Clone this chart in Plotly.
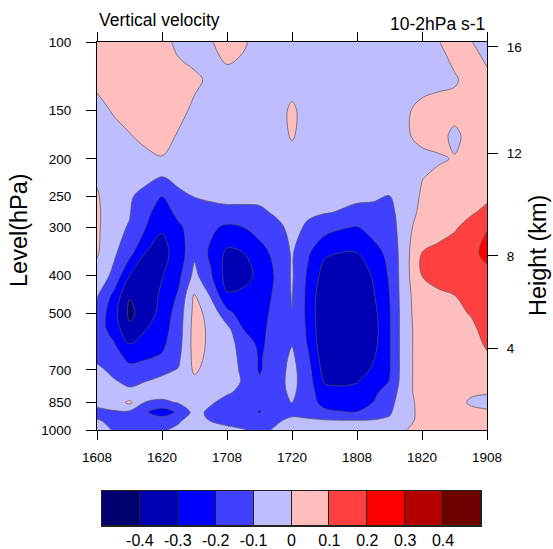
import numpy as np
import plotly.graph_objects as go

# ---- axes / labels ----
hours = [0, 3, 6, 9, 12, 15, 18, 21, 24, 27, 30, 33, 36, 39, 42, 45, 48, 51, 54, 57, 60, 63, 66, 69, 72]
xtick_hours = [0, 12, 24, 36, 48, 60, 72]
xtick_labels = ['1608', '1620', '1708', '1720', '1808', '1820', '1908']
levels_hpa = [100, 125, 150, 175, 200, 225, 250, 275, 300, 350, 400, 450, 500,
              550, 600, 650, 700, 750, 800, 850, 900, 925, 950, 1000]
ytick_hpa = [100, 150, 200, 250, 300, 400, 500, 700, 850, 1000]
height_km = [4, 8, 12, 16]
contour_levels = [-0.4, -0.3, -0.2, -0.1, 0.0, 0.1, 0.2, 0.3, 0.4]
cbar_labels = ['-0.4', '-0.3', '-0.2', '-0.1', '0', '0.1', '0.2', '0.3', '0.4']
colors = ['#00006E', '#0000B4', '#0000FF', '#4040FF', '#BEBEFF',
          '#FFBEBE', '#FF4040', '#FF0000', '#B40000', '#6E0000']

# ---- vertical velocity (10^-2 hPa/s), one profile per time, top (100 hPa) to bottom (1000 hPa) ----
w_t00 = [0.05, 0.03, -0.04, -0.05, -0.03, -0.01, 0.01, 0.02, 0.02, 0.01, -0.04, -0.09, -0.13, -0.15, -0.14, -0.12, -0.08, -0.06, -0.06, -0.08, -0.12, -0.11, -0.09, -0.06]
w_t03 = [0.06, 0.05, 0.01, -0.04, -0.05, -0.05, -0.06, -0.07, -0.08, -0.08, -0.12, -0.22, -0.26, -0.24, -0.19, -0.15, -0.12, -0.09, -0.06, -0.06, -0.11, -0.12, -0.12, -0.105]
w_t06 = [0.07, 0.06, 0.03, -0.005, -0.04, -0.05, -0.09, -0.095, -0.105, -0.17, -0.30, -0.395, -0.42, -0.38, -0.30, -0.23, -0.17, -0.12, -0.08, 0.02, -0.12, -0.14, -0.13, -0.12]
w_t09 = [0.07, 0.06, 0.04, 0.02, -0.02, -0.08, -0.13, -0.17, -0.2, -0.302, -0.35, -0.37, -0.36, -0.302, -0.26, -0.21, -0.16, -0.1, -0.07, -0.105, -0.19, -0.17, -0.14, -0.12]
w_t12 = [0.03, 0.05, 0.04, 0.02, -0.003, -0.11, -0.2, -0.26, -0.29, -0.33, -0.305, -0.28, -0.26, -0.24, -0.22, -0.19, -0.12, -0.08, -0.06, -0.12, -0.26, -0.195, -0.15, -0.11]
w_t15 = [-0.02, 0.03, 0.015, -0.005, -0.05, -0.08, -0.12, -0.17, -0.22, -0.26, -0.23, -0.19, -0.16, -0.15, -0.14, -0.12, -0.095, -0.06, -0.05, -0.095, -0.18, -0.14, -0.11, -0.08]
w_t18 = [-0.03, 0.01, -0.01, -0.04, -0.05, -0.07, -0.098, -0.13, -0.15, -0.12, -0.07, 0.01, 0.03, 0.04, 0.04, 0.03, 0.015, -0.02, -0.04, -0.06, -0.07, -0.06, -0.05, -0.05]
w_t21 = [-0.005, -0.01, -0.04, -0.05, -0.06, -0.07, -0.09, -0.12, -0.18, -0.22, -0.19, -0.11, -0.03, -0.02, -0.02, -0.025, -0.04, -0.05, -0.06, -0.09, -0.12, -0.12, -0.1, -0.06]
w_t24 = [0.03, -0.02, -0.04, -0.05, -0.06, -0.07, -0.08, -0.12, -0.22, -0.32, -0.34, -0.29, -0.17, -0.07, -0.05, -0.05, -0.05, -0.05, -0.09, -0.13, -0.15, -0.14, -0.12, -0.08]
w_t27 = [0.015, -0.04, -0.05, -0.05, -0.06, -0.07, -0.08, -0.12, -0.2, -0.302, -0.33, -0.28, -0.25, -0.2, -0.15, -0.13, -0.12, -0.11, -0.12, -0.14, -0.16, -0.15, -0.13, -0.095]
w_t30 = [-0.04, -0.05, -0.05, -0.05, -0.06, -0.07, -0.08, -0.115, -0.17, -0.23, -0.28, -0.26, -0.24, -0.23, -0.22, -0.21, -0.21, -0.185, -0.17, -0.18, -0.205, -0.17, -0.14, -0.12]
w_t33 = [-0.04, -0.05, -0.05, -0.05, -0.06, -0.07, -0.07, -0.09, -0.12, -0.18, -0.19, -0.18, -0.17, -0.16, -0.16, -0.16, -0.15, -0.14, -0.14, -0.14, -0.14, -0.13, -0.11, -0.09]
w_t36 = [-0.04, -0.05, 0.02, 0.01, -0.04, -0.06, -0.07, -0.08, -0.08, -0.09, -0.09, -0.095, -0.102, -0.11, -0.105, -0.08, -0.07, -0.07, -0.08, -0.098, -0.12, -0.1, -0.08, -0.07]
w_t39 = [-0.04, -0.05, -0.05, -0.05, -0.06, -0.07, -0.08, -0.09, -0.11, -0.19, -0.22, -0.23, -0.23, -0.22, -0.21, -0.19, -0.17, -0.16, -0.16, -0.16, -0.14, -0.105, -0.09, -0.07]
w_t42 = [-0.04, -0.05, -0.05, -0.05, -0.06, -0.07, -0.08, -0.095, -0.16, -0.285, -0.34, -0.38, -0.39, -0.39, -0.38, -0.36, -0.34, -0.31, -0.26, -0.23, -0.18, -0.12, -0.09, -0.07]
w_t45 = [-0.04, -0.05, -0.05, -0.05, -0.06, -0.07, -0.08, -0.105, -0.19, -0.302, -0.36, -0.38, -0.39, -0.39, -0.39, -0.38, -0.36, -0.32, -0.27, -0.24, -0.195, -0.13, -0.09, -0.07]
w_t48 = [-0.04, -0.05, -0.05, -0.05, -0.06, -0.07, -0.085, -0.12, -0.205, -0.302, -0.36, -0.38, -0.39, -0.39, -0.39, -0.38, -0.36, -0.305, -0.27, -0.24, -0.198, -0.13, -0.09, -0.07]
w_t51 = [-0.04, -0.05, -0.05, -0.05, -0.06, -0.07, -0.09, -0.12, -0.17, -0.23, -0.29, -0.31, -0.33, -0.34, -0.33, -0.31, -0.28, -0.25, -0.22, -0.199, -0.17, -0.12, -0.09, -0.07]
w_t54 = [-0.04, -0.05, -0.05, -0.05, -0.06, -0.07, -0.101, -0.13, -0.15, -0.18, -0.19, -0.201, -0.21, -0.21, -0.21, -0.21, -0.21, -0.198, -0.16, -0.13, -0.11, -0.098, -0.08, -0.07]
w_t57 = [-0.04, -0.04, -0.01, -0.01, -0.04, -0.05, -0.05, -0.04, -0.035, -0.03, -0.03, -0.03, -0.03, -0.03, -0.03, -0.03, -0.03, -0.03, -0.03, -0.035, -0.04, -0.04, -0.03, -0.002]
w_t60 = [-0.03, -0.03, 0.02, 0.02, -0.02, -0.002, 0.01, 0.02, 0.05, 0.101, 0.101, 0.06, 0.05, 0.04, 0.04, 0.04, 0.04, 0.04, 0.04, 0.03, 0.03, 0.03, 0.03, 0.03]
w_t63 = [-0.005, -0.02, 0.03, 0.03, -0.01, 0.02, 0.04, 0.05, 0.07, 0.12, 0.14, 0.08, 0.06, 0.05, 0.05, 0.05, 0.05, 0.05, 0.05, 0.04, 0.04, 0.04, 0.04, 0.04]
w_t66 = [0.04, -0.01, 0.03, -0.02, 0.005, 0.04, 0.06, 0.08, 0.09, 0.14, 0.16, 0.099, 0.08, 0.06, 0.06, 0.05, 0.05, 0.05, 0.04, 0.03, 0.03, 0.03, 0.03, 0.03]
w_t69 = [0.005, 0.03, 0.04, 0.03, 0.03, 0.05, 0.07, 0.09, 0.13, 0.17, 0.18, 0.16, 0.105, 0.08, 0.07, 0.06, 0.05, 0.03, 0.01, -0.01, 0.02, 0.03, 0.03, 0.03]
w_t72 = [-0.04, 0.02, 0.04, 0.04, 0.04, 0.06, 0.085, 0.12, 0.195, 0.23, 0.17, 0.16, 0.15, 0.13, 0.11, 0.09, 0.06, 0.03, 0.005, -0.02, 0.01, 0.02, 0.03, 0.03]

profiles = [w_t00, w_t03, w_t06, w_t09, w_t12, w_t15, w_t18, w_t21, w_t24, w_t27, w_t30, w_t33,
            w_t36, w_t39, w_t42, w_t45, w_t48, w_t51, w_t54, w_t57, w_t60, w_t63, w_t66, w_t69, w_t72]
z = np.array(profiles).T  # rows = pressure levels, cols = times

logp = np.log10(levels_hpa)


def std_atm_pressure(h_km):
    h = h_km * 1000.0
    if h <= 11000:
        return 1013.25 * (1 - 2.25577e-5 * h) ** 5.25588
    return 226.32 * np.exp(-(h - 11000) / 6341.6)


height_ticks = [float(np.log10(std_atm_pressure(h))) for h in height_km]

W, H = 553, 549
FONT = 'Liberation Sans, Arial, Helvetica, sans-serif'


def px_x(px):
    return px / W


def px_y(py):
    return 1 - py / H


fig = go.Figure()
fig.add_trace(go.Contour(
    x=hours, y=logp, z=z,
    colorscale=[[i / 9, c] for i, c in enumerate(colors)],
    contours=dict(start=contour_levels[0], end=contour_levels[-1], size=0.1,
                  coloring='fill', showlines=True),
    line=dict(color='#555555', width=0.7, smoothing=1),
    hoverinfo='skip', showscale=False,
))
fig.add_trace(go.Scatter(x=[None], y=[None], yaxis='y2', showlegend=False, hoverinfo='skip'))

# label bar (colour key) drawn as adjoining boxes on its own small axes
key_pos = list(range(len(colors)))
fig.add_trace(go.Bar(
    x=key_pos, y=[1] * len(colors), width=1,
    marker=dict(color=colors, line=dict(color='#222222', width=1)),
    xaxis='x2', yaxis='y3', hoverinfo='skip', showlegend=False,
))

axis_common = dict(showgrid=False, zeroline=False, automargin=False)

fig.update_layout(
    width=W, height=H,
    margin=dict(l=0, r=0, t=0, b=0),
    paper_bgcolor='white', plot_bgcolor='white',
    font=dict(family=FONT, color='black'),
    showlegend=False,
    xaxis=dict(domain=[px_x(97), px_x(487)], range=[0, 72],
               tickvals=xtick_hours, ticktext=xtick_labels,
               ticks='outside', ticklen=9, tickwidth=1, tickcolor='black',
               showline=True, linecolor='black', linewidth=1, mirror='ticks',
               ticklabelstandoff=6, tickfont=dict(size=13.5), **axis_common),
    yaxis=dict(domain=[px_y(430), px_y(42)], range=[3, 2],
               tickvals=[float(v) for v in np.log10(ytick_hpa)], ticktext=[str(p) for p in ytick_hpa],
               ticks='outside', ticklen=10, tickwidth=1, tickcolor='black',
               showline=True, linecolor='black', linewidth=1, mirror=False,
               ticklabelstandoff=12, tickfont=dict(size=13.5), **axis_common),
    yaxis2=dict(range=[3, 2], overlaying='y', side='right', anchor='x',
                tickvals=height_ticks, ticktext=[str(h) for h in height_km],
                ticks='outside', ticklen=10, tickwidth=1, tickcolor='black',
                showline=True, linecolor='black', linewidth=1,
                ticklabelstandoff=6, tickfont=dict(size=13.5), **axis_common),
    xaxis2=dict(domain=[px_x(102), px_x(481)], anchor='y3', range=[-0.5, len(colors) - 0.5],
                tickvals=[i + 0.5 for i in range(len(cbar_labels))], ticktext=cbar_labels,
                ticks='', showline=True, linecolor='#222222', linewidth=1, mirror=True,
                ticklabelstandoff=0, tickfont=dict(size=16), **axis_common),
    yaxis3=dict(domain=[px_y(526), px_y(491)], anchor='x2', range=[0, 1],
                showticklabels=False, ticks='', showline=True, linecolor='#222222',
                linewidth=1, mirror=True, **axis_common),
    bargap=0,
    annotations=[
        dict(text='Vertical velocity', xref='paper', yref='paper', x=px_x(97), y=px_y(32),
             xanchor='left', yanchor='bottom', showarrow=False, font=dict(size=17.5)),
        dict(text='10-2hPa s-1', xref='paper', yref='paper', x=px_x(487), y=px_y(36),
             xanchor='right', yanchor='bottom', showarrow=False, font=dict(size=17.5)),
        dict(text='Level(hPa)', xref='paper', yref='paper', x=px_x(19), y=px_y(230),
             xanchor='center', yanchor='middle', textangle=-90, showarrow=False, font=dict(size=23.5)),
        dict(text='Height (km)', xref='paper', yref='paper', x=px_x(538), y=px_y(256),
             xanchor='center', yanchor='middle', textangle=-90, showarrow=False, font=dict(size=23.5)),
    ],
)

fig.write_html('out.html')
